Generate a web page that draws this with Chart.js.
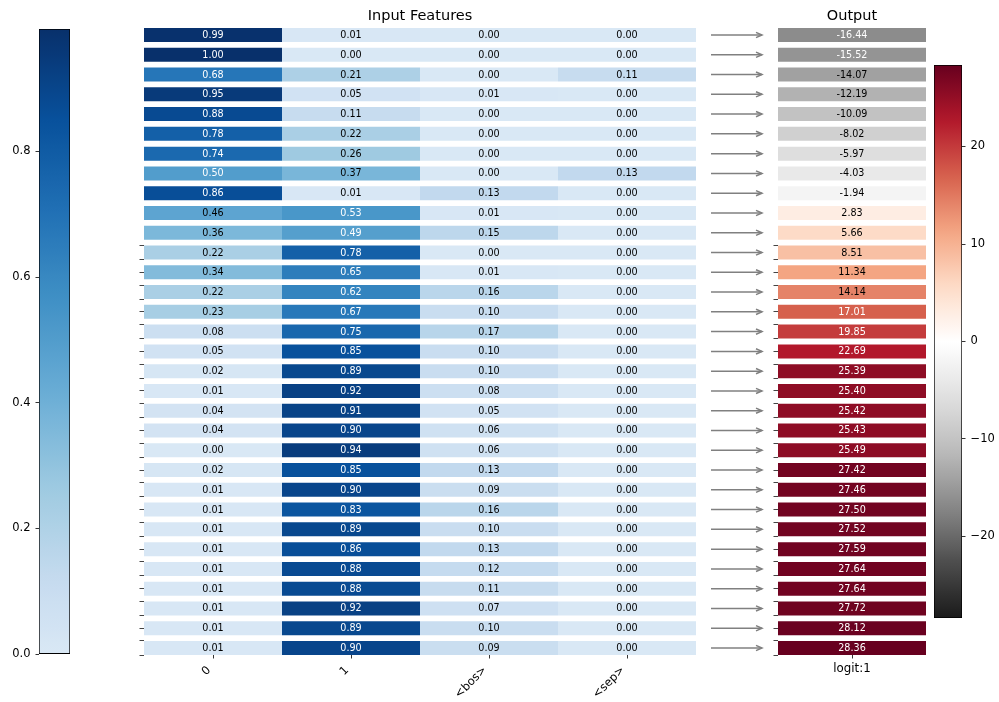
<!DOCTYPE html>
<html>
<head>
<meta charset="utf-8">
<script src="https://cdn.jsdelivr.net/npm/chart.js@4/dist/chart.umd.min.js"></script>
<style>
  html, body { margin: 0; padding: 0; background: #fff; }
  #wrap { position: relative; width: 999px; height: 702px; overflow: hidden; }
  #wrap canvas { position: absolute; left: 0; top: 0; }
</style>
</head>
<body>
<div id="wrap">
  <canvas id="cbBlue" width="999" height="702"></canvas>
  <canvas id="inputs" width="999" height="702"></canvas>
  <canvas id="output" width="999" height="702"></canvas>
  <canvas id="cbRed" width="999" height="702"></canvas>
</div>
<script>
// ---- data -------------------------------------------------------------
const featureNames = ['0', '1', '<bos>', '<sep>'];
const feat0   = [0.99, 1.00, 0.68, 0.95, 0.88, 0.78, 0.74, 0.50, 0.86, 0.46, 0.36, 0.22, 0.34, 0.22, 0.23, 0.08,
                 0.05, 0.02, 0.01, 0.04, 0.04, 0.00, 0.02, 0.01, 0.01, 0.01, 0.01, 0.01, 0.01, 0.01, 0.01, 0.01];
const feat1   = [0.01, 0.00, 0.21, 0.05, 0.11, 0.22, 0.26, 0.37, 0.01, 0.53, 0.49, 0.78, 0.65, 0.62, 0.67, 0.75,
                 0.85, 0.89, 0.92, 0.91, 0.90, 0.94, 0.85, 0.90, 0.83, 0.89, 0.86, 0.88, 0.88, 0.92, 0.89, 0.90];
const featBos = [0.00, 0.00, 0.00, 0.01, 0.00, 0.00, 0.00, 0.00, 0.13, 0.01, 0.15, 0.00, 0.01, 0.16, 0.10, 0.17,
                 0.10, 0.10, 0.08, 0.05, 0.06, 0.06, 0.13, 0.09, 0.16, 0.10, 0.13, 0.12, 0.11, 0.07, 0.10, 0.09];
const featSep = [0.00, 0.00, 0.11, 0.00, 0.00, 0.00, 0.00, 0.13, 0.00, 0.00, 0.00, 0.00, 0.00, 0.00, 0.00, 0.00,
                 0.00, 0.00, 0.00, 0.00, 0.00, 0.00, 0.00, 0.00, 0.00, 0.00, 0.00, 0.00, 0.00, 0.00, 0.00, 0.00];
const logits  = [-16.44, -15.52, -14.07, -12.19, -10.09, -8.02, -5.97, -4.03, -1.94, 2.83, 5.66, 8.51, 11.34, 14.14, 17.01, 19.85,
                 22.69, 25.39, 25.40, 25.42, 25.43, 25.49, 27.42, 27.46, 27.50, 27.52, 27.59, 27.64, 27.64, 27.72, 28.12, 28.36];
const outputLabel = 'logit:1';
const blueRange = [0, 0.995];
const blueTicks = [0, 0.2, 0.4, 0.6, 0.8];
const redTicks  = [-20, -10, 0, 10, 20];

// ---- styling ----------------------------------------------------------
const FONT = 'DejaVu Sans';
const BAR_FRACTION = 0.708;      // bar height relative to row pitch
const FIRST_MARKED_ROW = 11;     // rows from here down carry small side ticks
const N = logits.length;
const redMax = Math.max(...logits.map(Math.abs));

Chart.defaults.font.family = FONT;

const BLUES = ['#f7fbff', '#deebf7', '#c6dbef', '#9ecae1', '#6baed6', '#4292c6', '#2171b5', '#08519c', '#08306b'];
const RDGY_R = ['#1a1a1a', '#4d4d4d', '#878787', '#bababa', '#e0e0e0', '#ffffff',
                '#fddbc7', '#f4a582', '#d6604d', '#b2182b', '#67001f'];
const BLUE_START = 0.15;

function hexRgb(h) {
  const n = parseInt(h.slice(1), 16);
  return [(n >> 16) & 255, (n >> 8) & 255, n & 255];
}
function sampleMap(stops, t) {
  t = Math.max(0, Math.min(1, t));
  const n = stops.length - 1;
  const f = t * n;
  const i = Math.min(Math.floor(f), n - 1);
  const u = f - i;
  const a = hexRgb(stops[i]), b = hexRgb(stops[i + 1]);
  const c = a.map((v, k) => Math.round(v + (b[k] - v) * u));
  return `rgb(${c[0]},${c[1]},${c[2]})`;
}
const blueNorm = v => (v - blueRange[0]) / (blueRange[1] - blueRange[0]);
const blueColor = v => sampleMap(BLUES, BLUE_START + (1 - BLUE_START) * Math.max(0, Math.min(1, blueNorm(v))));
const redNorm = v => (v + redMax) / (2 * redMax);
const redColor = v => sampleMap(RDGY_R, redNorm(v));

const blueText = v => (blueNorm(v) > 0.47 ? '#fff' : '#000');
const redText = v => (Math.abs(redNorm(v) - 0.5) > 0.26 ? '#fff' : '#000');

// ---- helpers ----------------------------------------------------------
const rowRange = { min: -BAR_FRACTION / 2, max: (N - 1) + BAR_FRACTION / 2 };

function sideTickValues() {
  const out = [];
  for (let i = FIRST_MARKED_ROW; i < N; i++) {
    if (i % 2) out.push(i - BAR_FRACTION / 2, i + BAR_FRACTION / 2);
    else out.push(i);
  }
  return out;
}

function cellLabels(colorFor) {
  return {
    id: 'cellLabels',
    afterDatasetsDraw(chart) {
      const ctx = chart.ctx;
      ctx.save();
      ctx.font = `9.6px "${FONT}"`;
      ctx.textAlign = 'center';
      ctx.textBaseline = 'middle';
      chart.data.datasets.forEach((ds, di) => {
        chart.getDatasetMeta(di).data.forEach((bar, i) => {
          const v = ds.values[i];
          const p = bar.getCenterPoint();
          ctx.fillStyle = colorFor(v);
          ctx.fillText(v.toFixed(2), p.x, p.y + 0.5);
        });
      });
      ctx.restore();
    }
  };
}

const tickFont = { family: FONT, size: 11.5 };
const titleOpts = text => ({
  display: true, text, fullSize: false, color: '#000',
  font: { family: FONT, size: 14.5, weight: 'normal', lineHeight: 1.2 },
  padding: { top: 7.3, bottom: 3.3 }
});

function rowScales(xScale) {
  return {
    x: xScale,
    y: { type: 'linear', display: false, offset: false, reverse: true, ...rowRange },
    yMarks: {
      type: 'linear', axis: 'y', position: 'left', offset: false, reverse: true, ...rowRange,
      afterBuildTicks: s => { s.ticks = sideTickValues().map(v => ({ value: v })); },
      afterFit: s => { s.width = 5; },
      grid: { offset: false, drawOnChartArea: false, drawTicks: true, tickLength: 4.5, color: '#444', lineWidth: 1 },
      border: { display: false },
      ticks: { display: false }
    }
  };
}

// ---- input feature heatmap ---------------------------------------------
const columns = [feat0, feat1, featBos, featSep];
const inputDatasets = columns.map((vals, c) => ({
  label: featureNames[c],
  data: vals.map((_, i) => ({ x: [c, c + 1], y: i })),
  values: vals,
  backgroundColor: vals.map(blueColor),
  borderWidth: 0,
  grouped: false,
  categoryPercentage: 1,
  barPercentage: BAR_FRACTION
}));

new Chart(document.getElementById('inputs'), {
  type: 'bar',
  data: { datasets: inputDatasets },
  options: {
    indexAxis: 'y',
    responsive: false,
    animation: false,
    events: [],
    layout: { padding: { left: 139, right: 303, top: 0, bottom: 0 } },
    plugins: {
      legend: { display: false },
      tooltip: { enabled: false },
      title: titleOpts('Input Features')
    },
    scales: rowScales({
      type: 'linear', position: 'bottom', offset: false, min: 0, max: featureNames.length,
      afterBuildTicks: s => { s.ticks = featureNames.map((_, i) => ({ value: i + 0.5 })); },
      afterFit: s => { s.height = 47; },
      grid: { offset: false, drawOnChartArea: false, drawTicks: true, tickLength: 3.5, color: '#000', lineWidth: 0.8 },
      border: { display: false },
      ticks: {
        callback: (v, i) => featureNames[i],
        minRotation: 45, maxRotation: 45, autoSkip: false,
        color: '#000', font: tickFont, padding: 5, labelOffset: -4
      }
    })
  },
  plugins: [cellLabels(blueText)]
});

// ---- output column with arrows -------------------------------------------
const rowArrows = {
  id: 'rowArrows',
  beforeDatasetsDraw(chart) {
    const { ctx, chartArea, scales } = chart;
    ctx.save();
    ctx.strokeStyle = '#808080';
    ctx.lineWidth = 1.5;
    ctx.lineCap = 'butt';
    const x0 = chartArea.left - 67, x1 = chartArea.left - 16;
    logits.forEach((_, i) => {
      const y = scales.y.getPixelForValue(i);
      ctx.beginPath();
      ctx.moveTo(x0, y);
      ctx.lineTo(x1, y);
      ctx.stroke();
      ctx.beginPath();
      ctx.moveTo(x1 - 6, y - 2.6);
      ctx.lineTo(x1, y);
      ctx.lineTo(x1 - 6, y + 2.6);
      ctx.stroke();
    });
    ctx.restore();
  }
};

new Chart(document.getElementById('output'), {
  type: 'bar',
  data: {
    datasets: [{
      label: outputLabel,
      data: logits.map((_, i) => ({ x: [0, 1], y: i })),
      values: logits,
      backgroundColor: logits.map(redColor),
      borderWidth: 0,
      grouped: false,
      categoryPercentage: 1,
      barPercentage: BAR_FRACTION
    }]
  },
  options: {
    indexAxis: 'y',
    responsive: false,
    animation: false,
    events: [],
    layout: { padding: { left: 773, right: 73, top: 0, bottom: 0 } },
    plugins: {
      legend: { display: false },
      tooltip: { enabled: false },
      title: titleOpts('Output')
    },
    scales: rowScales({
      type: 'linear', position: 'bottom', offset: false, min: 0, max: 1,
      afterBuildTicks: s => { s.ticks = [{ value: 0.5 }]; },
      afterFit: s => { s.height = 47; },
      grid: { offset: false, drawOnChartArea: false, drawTicks: true, tickLength: 3.5, color: '#000', lineWidth: 0.8 },
      border: { display: false },
      ticks: {
        callback: () => outputLabel,
        minRotation: 0, maxRotation: 0, autoSkip: false,
        color: '#000', font: { family: FONT, size: 11.8 }, padding: 3
      }
    })
  },
  plugins: [rowArrows, cellLabels(redText)]
});

// ---- colour bars -------------------------------------------------------
function gradientFill(lo, hi, colorOf) {
  return ctx => {
    const chart = ctx.chart;
    if (!chart.chartArea) return null;
    const ys = chart.scales.y;
    const g = chart.ctx.createLinearGradient(0, ys.getPixelForValue(lo), 0, ys.getPixelForValue(hi));
    const steps = 48;
    for (let k = 0; k <= steps; k++) {
      g.addColorStop(k / steps, colorOf(lo + (hi - lo) * k / steps));
    }
    return g;
  };
}

function colorbar(canvasId, lo, hi, colorOf, ticks, fmt, pos, padding, axisWidth) {
  return new Chart(document.getElementById(canvasId), {
    type: 'bar',
    data: {
      labels: [''],
      datasets: [{
        data: [[lo, hi]],
        backgroundColor: gradientFill(lo, hi, colorOf),
        borderColor: '#000',
        borderWidth: 1,
        borderSkipped: false,
        categoryPercentage: 1,
        barPercentage: 1
      }]
    },
    options: {
      responsive: false,
      animation: false,
      events: [],
      layout: { padding },
      plugins: { legend: { display: false }, tooltip: { enabled: false } },
      scales: {
        x: { display: false },
        y: {
          type: 'linear', position: pos, min: lo, max: hi,
          afterBuildTicks: s => { s.ticks = ticks.map(v => ({ value: v })); },
          afterFit: s => { s.width = axisWidth; },
          grid: { drawOnChartArea: false, drawTicks: true, tickLength: 3.5, color: '#000', lineWidth: 0.8 },
          border: { display: false },
          ticks: { callback: fmt, color: '#000', font: tickFont, padding: 5 }
        }
      }
    }
  });
}

colorbar('cbBlue', blueRange[0], blueRange[1], blueColor, blueTicks,
  v => v.toFixed(1), 'left', { left: 0, right: 929, top: 29, bottom: 48 }, 39);

colorbar('cbRed', -redMax, redMax, redColor, redTicks,
  v => (v < 0 ? '\u2212' + Math.abs(v) : String(v)), 'right', { left: 934, right: 0, top: 65, bottom: 84 }, 37);
</script>
</body>
</html>
